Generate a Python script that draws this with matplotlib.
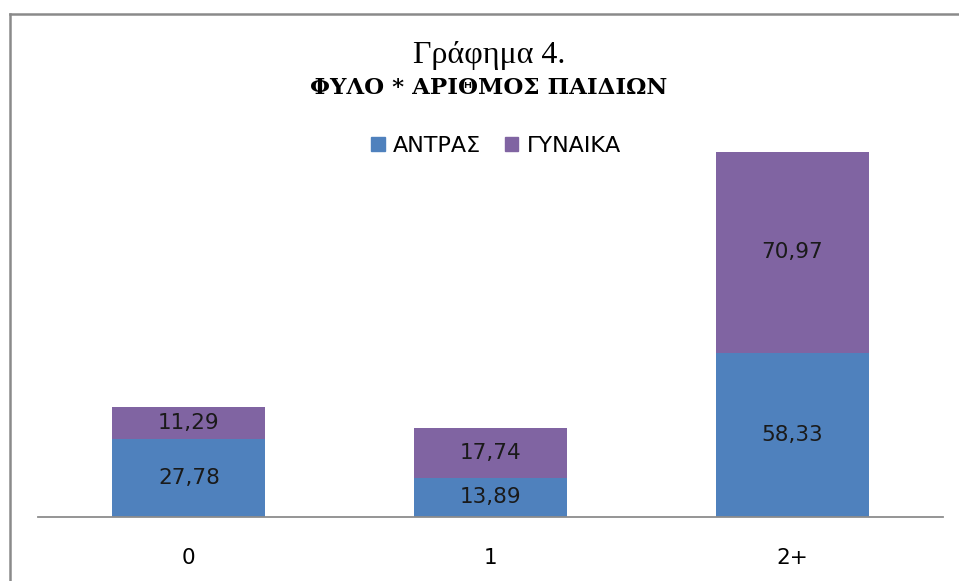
import matplotlib
matplotlib.use("Agg")
import matplotlib.pyplot as plt
from matplotlib.lines import Line2D
from matplotlib.patches import Patch

categories = ["0", "1", "2+"]
men = [27.78, 13.89, 58.33]
women = [11.29, 17.74, 70.97]
series_names = ["ΑΝΤΡΑΣ", "ΓΥΝΑΙΚΑ"]
title1 = "Γράφημα 4."
title2 = "ΦΥΛΟ * ΑΡΙΘΜΟΣ ΠΑΙΔΙΩΝ"

W, H = 959, 581
blue = "#4F81BD"
purple = "#8064A2"

fig = plt.figure(figsize=(W / 100, H / 100), dpi=100)
fig.patch.set_facecolor("white")

ax_left, ax_right = 38, 943
ax_bottom = 517
ymax = 140
px_per_unit = 2.82
ax_top = ax_bottom - ymax * px_per_unit
ax = fig.add_axes([ax_left / W, (H - ax_bottom) / H, (ax_right - ax_left) / W, (ax_bottom - ax_top) / H])

x = list(range(len(categories)))
b1 = ax.bar(x, men, width=0.508, color=blue, label=series_names[0])
b2 = ax.bar(x, women, width=0.508, bottom=men, color=purple, label=series_names[1])

fmt = lambda v: f"{v:.2f}".replace(".", ",")
ax.bar_label(b1, labels=[fmt(v) for v in men], label_type="center", fontsize=15.5, color="#1a1a1a")
ax.bar_label(b2, labels=[fmt(v) for v in women], label_type="center", fontsize=15.5, color="#1a1a1a")

ax.set_xlim(-0.5, 2.5)
ax.set_ylim(0, ymax)
ax.set_xticks(x)
ax.set_xticklabels(categories, fontsize=15.5)
ax.tick_params(axis="x", length=0, pad=22)
ax.set_yticks([])
for s in ["top", "left", "right"]:
    ax.spines[s].set_visible(False)
ax.spines["bottom"].set_color("#8c8c8c")
ax.spines["bottom"].set_linewidth(1.3)
ax.set_facecolor("none")

fig.text(489 / W, 1 - 56 / H, title1, ha="center", va="center", fontsize=23, family="Liberation Serif")
fig.text(489 / W, 1 - 88 / H, title2, ha="center", va="center", fontsize=16.5, family="DejaVu Serif", fontweight="bold")

handles = [Patch(facecolor=blue, edgecolor=blue), Patch(facecolor=purple, edgecolor=purple)]
fig.legend(handles, series_names, loc="center", bbox_to_anchor=(496 / W, 1 - 146 / H), ncol=2, frameon=False,
           fontsize=16, handlelength=0.6, handleheight=0.6, handletextpad=0.36, columnspacing=1.1)

# outer frame
fig.add_artist(Line2D([10 / W, 1], [1 - 14 / H, 1 - 14 / H], color="#8a8a8a", lw=1.8, transform=fig.transFigure))
fig.add_artist(Line2D([10 / W, 10 / W], [0, 1 - 14 / H], color="#8a8a8a", lw=1.8, transform=fig.transFigure))

fig.savefig("out.png", dpi=100)
